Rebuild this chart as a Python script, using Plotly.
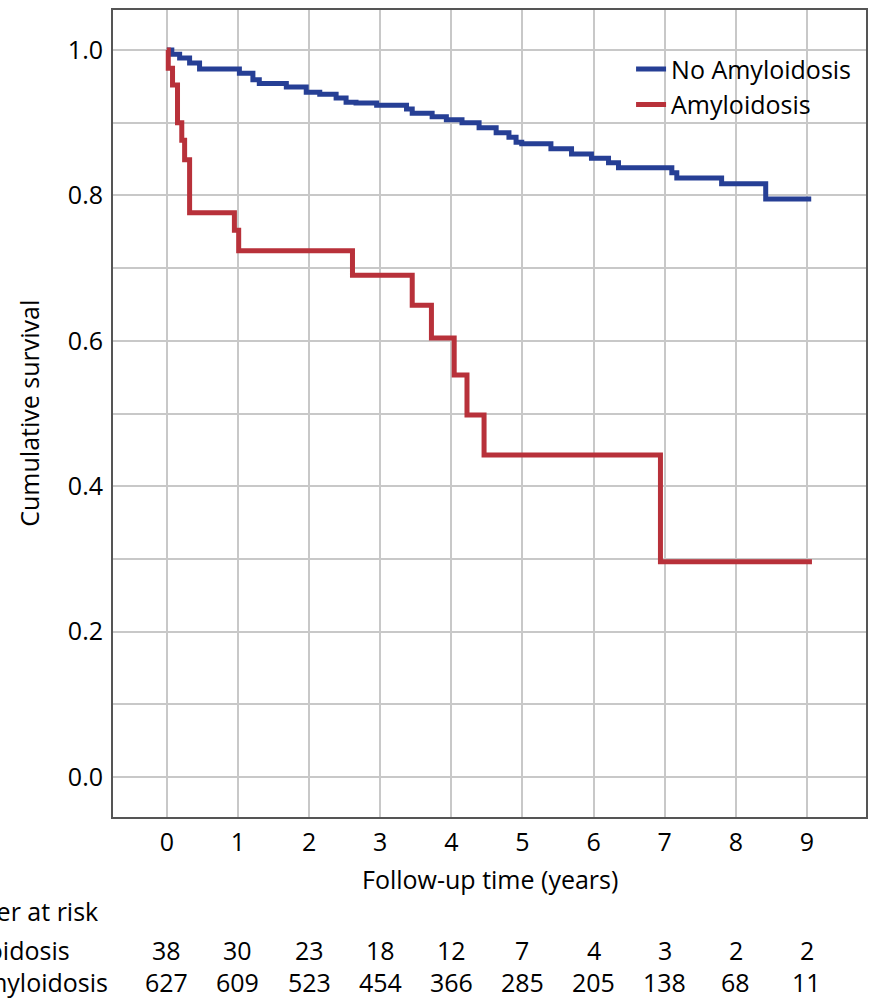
import plotly.graph_objects as go

# ---- data ----
no_amy_t = [0, 0.07, 0.18, 0.32, 0.46, 1.02, 1.21, 1.30, 1.68, 1.96, 2.15, 2.38, 2.52, 2.66,
            2.95, 3.37, 3.45, 3.73, 3.93, 4.15, 4.39, 4.63, 4.81, 4.91, 4.99, 5.40, 5.69,
            5.97, 6.21, 6.35, 7.10, 7.17, 7.80, 8.42, 9.06]
no_amy_s = [1.0, 0.994, 0.989, 0.982, 0.974, 0.968, 0.959, 0.954, 0.949, 0.942, 0.939, 0.934,
            0.928, 0.927, 0.924, 0.919, 0.913, 0.908, 0.904, 0.900, 0.893, 0.886, 0.880, 0.873,
            0.871, 0.864, 0.857, 0.851, 0.845, 0.838, 0.831, 0.824, 0.816, 0.795, 0.795]

amy_t = [0, 0.02, 0.08, 0.15, 0.21, 0.25, 0.32, 0.95, 1.01, 2.61, 3.45, 3.72, 4.04, 4.22,
         4.46, 6.94, 9.07]
amy_s = [1.0, 0.975, 0.952, 0.900, 0.876, 0.849, 0.776, 0.752, 0.724, 0.690, 0.649, 0.604,
         0.553, 0.498, 0.443, 0.296, 0.296]

x_ticks = [0, 1, 2, 3, 4, 5, 6, 7, 8, 9]
y_grid = [0.0, 0.1, 0.2, 0.3, 0.4, 0.5, 0.6, 0.7, 0.8, 0.9, 1.0]
y_labels = ["0.0", "", "0.2", "", "0.4", "", "0.6", "", "0.8", "", "1.0"]

risk_amy = [38, 30, 23, 18, 12, 7, 4, 3, 2, 2]
risk_no_amy = [627, 609, 523, 454, 366, 285, 205, 138, 68, 11]

BLUE = "#263f95"
RED = "#b8313a"
FONT = "Open Sans"
FS = 25

fig = go.Figure()
fig.add_trace(go.Scatter(x=no_amy_t, y=no_amy_s, mode="lines", line_shape="hv",
                         line=dict(color=BLUE, width=5), name="No Amyloidosis"))
fig.add_trace(go.Scatter(x=amy_t, y=amy_s, mode="lines", line_shape="hv",
                         line=dict(color=RED, width=5), name="Amyloidosis"))

annotations = []
# y-axis title
annotations.append(dict(text="Cumulative survival", xref="paper", yref="paper",
                        x=-0.1126, y=0.5, textangle=-90, showarrow=False,
                        xanchor="center", yanchor="middle",
                        font=dict(family=FONT, size=FS, color="black")))
# x-axis title
annotations.append(dict(text="Follow-up time (years)", xref="paper", yref="paper",
                        x=0.5, y=-0.077, showarrow=False, xanchor="center", yanchor="middle",
                        font=dict(family=FONT, size=FS, color="black")))
# number at risk
row_y = [-0.116, -0.165, -0.205]
annotations.append(dict(text="Number at risk", xref="paper", yref="paper",
                        x=(100 - 113) / 755, y=row_y[0], showarrow=False,
                        xanchor="right", yanchor="middle",
                        font=dict(family=FONT, size=FS, color="black")))
annotations.append(dict(text="Amyloidosis", xref="paper", yref="paper",
                        x=(72 - 113) / 755, y=row_y[1], showarrow=False,
                        xanchor="right", yanchor="middle",
                        font=dict(family=FONT, size=FS, color="black")))
annotations.append(dict(text="No Amyloidosis", xref="paper", yref="paper",
                        x=(110 - 113) / 755, y=row_y[2], showarrow=False,
                        xanchor="right", yanchor="middle",
                        font=dict(family=FONT, size=FS, color="black")))
for t, a, b in zip(x_ticks, risk_amy, risk_no_amy):
    annotations.append(dict(text=str(a), xref="x", yref="paper", x=t, y=row_y[1],
                            showarrow=False, xanchor="center", yanchor="middle",
                            font=dict(family=FONT, size=FS, color="black")))
    annotations.append(dict(text=str(b), xref="x", yref="paper", x=t, y=row_y[2],
                            showarrow=False, xanchor="center", yanchor="middle",
                            font=dict(family=FONT, size=FS, color="black")))

fig.update_layout(
    width=870, height=998,
    margin=dict(l=113, r=2, t=10, b=181),
    paper_bgcolor="white", plot_bgcolor="white",
    font=dict(family=FONT, size=FS, color="black"),
    showlegend=True,
    legend=dict(x=0.688, y=0.955, xanchor="left", yanchor="top",
                bgcolor="rgba(0,0,0,0)", borderwidth=0,
                font=dict(family=FONT, size=FS, color="black"), tracegroupgap=0),
    annotations=annotations,
    xaxis=dict(range=[-0.757, 9.83], tickvals=x_ticks, ticktext=[str(v) for v in x_ticks],
               showgrid=True, gridcolor="#c8c8c8", gridwidth=2, zeroline=False,
               showline=True, mirror=True, linecolor="#555555", linewidth=2,
               ticks="", ticklabelstandoff=2,
               tickfont=dict(family=FONT, size=FS, color="black")),
    yaxis=dict(range=[-0.055, 1.055], tickvals=y_grid, ticktext=y_labels,
               showgrid=True, gridcolor="#c8c8c8", gridwidth=2, zeroline=False,
               showline=True, mirror=True, linecolor="#555555", linewidth=2,
               ticks="", ticklabelstandoff=3,
               tickfont=dict(family=FONT, size=FS, color="black")),
)

fig.write_html("out.html", config={"displayModeBar": False},
               post_script="document.body.style.margin='0';")
